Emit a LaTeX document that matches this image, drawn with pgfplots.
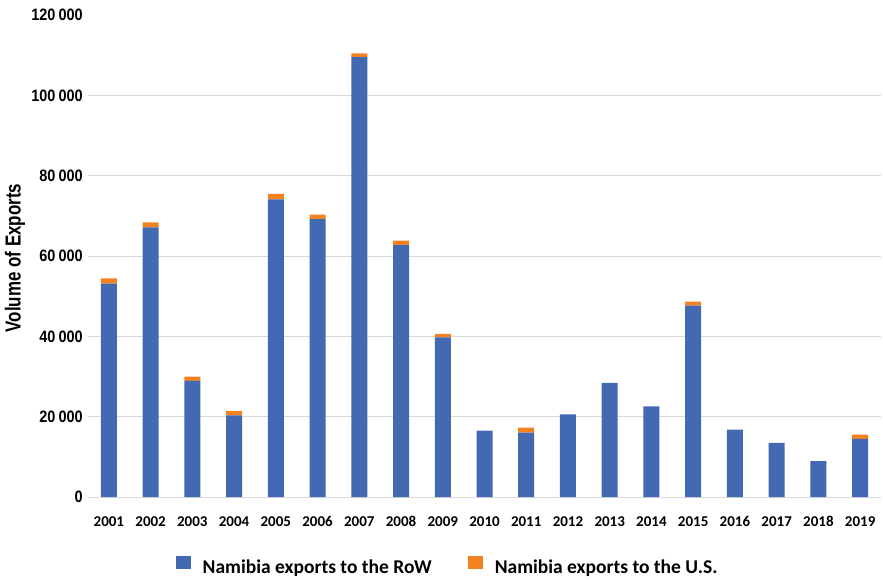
\documentclass[border=0pt]{standalone}
\usepackage{fontspec}
\setmainfont{Carlito}
\newfontfamily\numfont[FakeStretch=0.88]{Liberation Sans}
\newfontfamily\titlefont[FakeStretch=0.78]{Liberation Sans}
\usepackage{pgfplots}
\pgfplotsset{compat=1.18}
\definecolor{rowblue}{HTML}{4369B3}
\definecolor{usorange}{HTML}{F48120}
\definecolor{gridgray}{HTML}{D9D9D9}
\newcommand{\tsep}{\hspace{3pt}}

\begin{document}
\begin{tikzpicture}
\begin{axis}[
  name=ax,
  scale only axis,
  width=793pt, height=482pt,
  ybar stacked, bar width=16pt,
  xmin=-0.5, xmax=18.5, ymin=0, ymax=120000,
  axis line style={draw=none},
  tick style={draw=none},
  scaled y ticks=false,
  xtick={0,...,18},
  xticklabels={2001,2002,2003,2004,2005,2006,2007,2008,2009,2010,2011,2012,2013,2014,2015,2016,2017,2018,2019},
  ytick={0,20000,40000,60000,80000,100000},
  yticklabels={0,20\tsep000,40\tsep000,60\tsep000,80\tsep000,100\tsep000},
  extra y ticks={120000},
  extra y tick labels={120\tsep000},
  extra y tick style={grid=none},
  ymajorgrids,
  grid style={gridgray, line width=1pt},
  yticklabel style={font=\numfont\bfseries\fontsize{16.5}{18}\selectfont, inner sep=0pt, xshift=-5pt},
  xticklabel style={font=\bfseries\fontsize{15}{18}\selectfont, inner sep=0pt, yshift=-19pt},
  legend columns=2,
  legend style={at={(0.4535,-0.1442)}, anchor=center, draw=none, fill=none,
    font=\bfseries\fontsize{19.5}{21}\selectfont, inner sep=0pt, column sep=0pt,
    /tikz/every odd column/.append style={column sep=10pt},
    /tikz/every even column/.append style={column sep=34pt}},
  legend image code/.code={\fill[#1] (0pt,-2.5pt) rectangle (15pt,10.5pt);},
]
% Exports to the rest of the world
\addplot[fill=rowblue, draw=none] coordinates {
  (0,53100) (1,67100) (2,28900) (3,20300) (4,74100) (5,69150) (6,109500)
  (7,62700) (8,39750) (9,16500) (10,16000) (11,20600) (12,28400) (13,22550)
  (14,47650) (15,16750) (16,13500) (17,8950) (18,14450)};
% Exports to the United States
\addplot[fill=usorange, draw=none] coordinates {
  (0,1300) (1,1250) (2,1100) (3,1150) (4,1350) (5,1150) (6,950)
  (7,1150) (8,850) (9,0) (10,1250) (11,0) (12,0) (13,0)
  (14,1000) (15,0) (16,0) (17,0) (18,1100)};
\legend{Namibia exports to the RoW, Namibia exports to the U.S.}
\end{axis}
\node[rotate=90, font=\titlefont\bfseries\fontsize{21.7}{24}\selectfont]
  at ([xshift=-73pt, yshift=-2pt]ax.west) {Volume of Exports};
\pgfresetboundingbox
\path[use as bounding box] ([shift={(-88pt,-82pt)}]ax.south west)
  rectangle ([shift={(2pt,15pt)}]ax.north east);
\end{tikzpicture}
\end{document}
